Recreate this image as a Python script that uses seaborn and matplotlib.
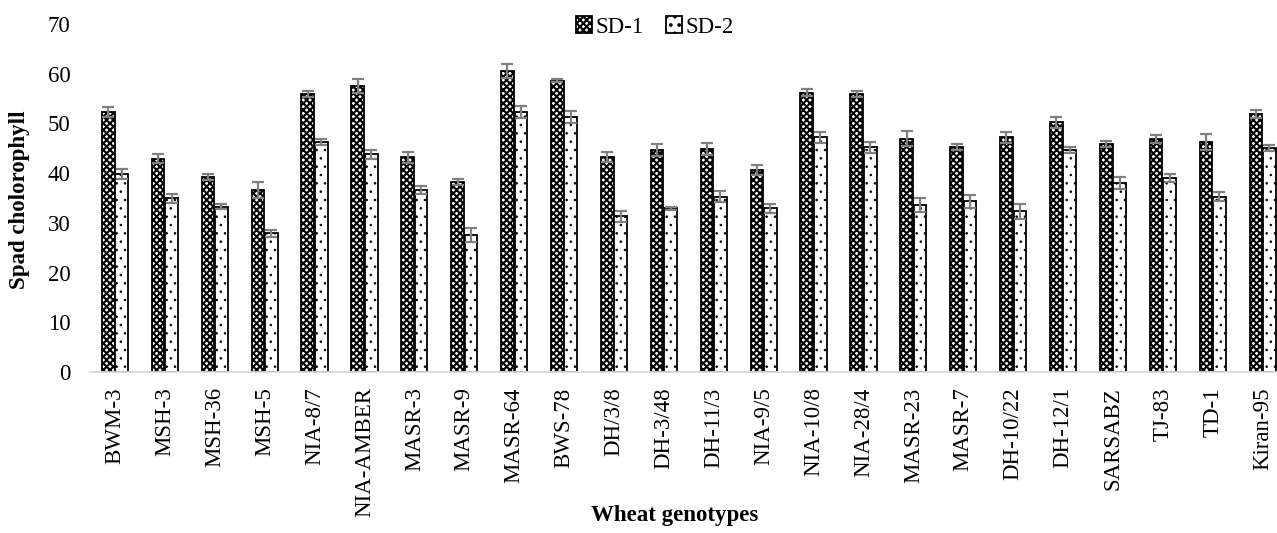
import pandas as pd
import seaborn as sns
import matplotlib.pyplot as plt
from matplotlib.patches import Patch

genotypes = ["BWM-3", "MSH-3", "MSH-36", "MSH-5", "NIA-8/7", "NIA-AMBER", "MASR-3", "MASR-9",
             "MASR-64", "BWS-78", "DH/3/8", "DH-3/48", "DH-11/3", "NIA-9/5", "NIA-10/8", "NIA-28/4",
             "MASR-23", "MASR-7", "DH-10/22", "DH-12/1", "SARSABZ", "TJ-83", "TD-1", "Kiran-95"]
sd1 = [52.3, 42.9, 39.2, 36.6, 55.9, 57.5, 43.2, 38.2, 60.6, 58.6, 43.3, 44.6,
       44.9, 40.6, 56.2, 55.9, 46.9, 45.2, 47.2, 50.2, 45.9, 46.9, 46.3, 51.9]
sd2 = [39.8, 34.9, 33.2, 27.9, 46.2, 43.8, 36.6, 27.6, 52.3, 51.2, 31.3, 32.9,
       35.3, 32.9, 47.2, 45.2, 33.6, 34.3, 32.3, 44.7, 38.0, 39.0, 35.3, 45.1]
sd1_err = [1.0, 0.95, 0.6, 1.55, 0.65, 1.35, 1.1, 0.65, 1.4, 0.3, 1.0, 1.2,
           1.2, 1.0, 0.7, 0.65, 1.5, 0.6, 1.15, 1.15, 0.6, 0.8, 1.55, 0.8]
sd2_err = [1.0, 0.95, 0.5, 0.7, 0.6, 0.9, 0.8, 1.4, 1.15, 1.2, 1.15, 0.3,
           1.15, 0.9, 1.15, 1.15, 1.5, 1.35, 1.5, 0.65, 1.15, 0.8, 1.0, 0.55]
series = ["SD-1", "SD-2"]

df = pd.DataFrame({
    "genotype": genotypes * 2,
    "value": sd1 + sd2,
    "series": [series[0]] * len(sd1) + [series[1]] * len(sd2),
})

sns.set_style("white")
plt.rcParams["font.family"] = ["Liberation Serif", "DejaVu Serif"]
plt.rcParams["hatch.linewidth"] = 1.5
plt.rcParams["text.color"] = "black"
plt.rcParams["xtick.labelcolor"] = "black"
plt.rcParams["ytick.labelcolor"] = "black"

W, H = 1277, 533
fig = plt.figure(figsize=(W / 100, H / 100), dpi=100)
step = 49.9
ax = fig.add_axes([90 / W, 1 - 372 / H, 24 * step / W, 348 / H])

sns.barplot(data=df, x="genotype", y="value", hue="series", palette=["white", "white"],
            width=0.54, gap=0.06, errorbar=None, legend=False, ax=ax)

hatches = ["xxxxx", ".."]
hatch_lw = [1.5, 0.6]
errs = [sd1_err, sd2_err]
for cont, hatch, hlw, err in zip(ax.containers, hatches, hatch_lw, errs):
    xs, ys = [], []
    for bar in cont.patches:
        bar.set_facecolor("white")
        bar.set_edgecolor("black")
        bar.set_linewidth(1.3)
        bar.set_hatch(hatch)
        if hasattr(bar, "set_hatch_linewidth"):
            bar.set_hatch_linewidth(hlw)
        else:
            bar._hatch_linewidth = hlw
        xs.append(bar.get_x() + bar.get_width() / 2)
        ys.append(bar.get_height())
    ax.errorbar(xs, ys, yerr=err, fmt="none", ecolor="#808080",
                elinewidth=1.6, capsize=4.3, capthick=1.6, zorder=5)

ax.set_xlim(-0.5, len(genotypes) - 0.5)
ax.set_ylim(0, 70)
ax.set_yticks(range(0, 80, 10))
ax.set_xlabel("")
ax.set_ylabel("")
for s in ["left", "right", "top"]:
    ax.spines[s].set_visible(False)
ax.spines["bottom"].set_color("#d9d9d9")
ax.spines["bottom"].set_linewidth(1.3)

ax.tick_params(axis="y", length=0, pad=14, labelsize=16.5, labelcolor="black")
ax.tick_params(axis="x", which="major", length=0, pad=11, labelsize=16.5,
               labelrotation=90, labelcolor="black")
ax.set_xticks([i - 0.5 for i in range(len(genotypes) + 1)], minor=True)
ax.tick_params(axis="x", which="minor", length=4, width=1.2, color="#d9d9d9")

fig.text(20 / W, 1 - 200 / H, "Spad cholorophyll", rotation=90, ha="center", va="center",
         fontsize=16.5, fontweight="bold", color="black")
fig.text(675 / W, 1 - 515 / H, "Wheat genotypes", ha="center", va="center",
         fontsize=16.5, fontweight="bold", color="black")

handles = [Patch(facecolor="white", edgecolor="black", hatch=h, linewidth=1.3, label=s)
           for h, s in zip(hatches, series)]
fig.legend(handles=handles, loc="center", bbox_to_anchor=(655 / W, 1 - 27 / H), ncol=2,
           frameon=False, fontsize=16.5, handlelength=0.7, handleheight=0.7,
           handletextpad=0.15, columnspacing=1.0, labelcolor="black")

fig.savefig("out.png", dpi=100)
